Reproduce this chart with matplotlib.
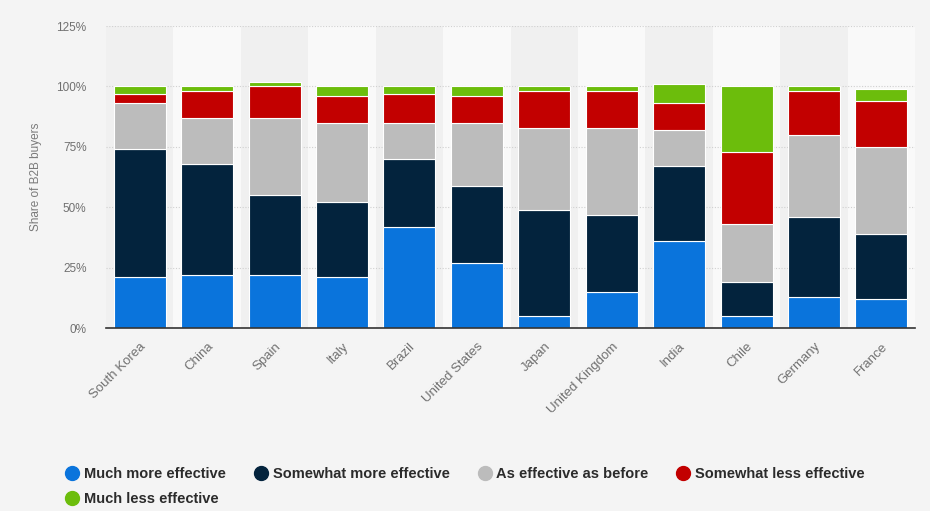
import numpy as np
import matplotlib.pyplot as plt
from matplotlib.lines import Line2D
from matplotlib.ticker import FuncFormatter

# data (share of B2B buyers, %)
countries = ["South Korea", "China", "Spain", "Italy", "Brazil", "United States",
             "Japan", "United Kingdom", "India", "Chile", "Germany", "France"]
much_more = [21, 22, 22, 21, 42, 27, 5, 15, 36, 5, 13, 12]
somewhat_more = [53, 46, 33, 31, 28, 32, 44, 32, 31, 14, 33, 27]
as_before = [19, 19, 32, 33, 15, 26, 34, 36, 15, 24, 34, 36]
somewhat_less = [4, 11, 13, 11, 12, 11, 15, 15, 11, 30, 18, 19]
much_less = [3, 2, 2, 4, 3, 4, 2, 2, 8, 27, 2, 5]

series = [much_more, somewhat_more, as_before, somewhat_less, much_less]
labels = ["Much more effective", "Somewhat more effective", "As effective as before",
          "Somewhat less effective", "Much less effective"]
colors = ["#0a74dc", "#03233d", "#bcbcbc", "#c20000", "#6cbd0c"]

bg = "#f4f4f4"
plt.rcParams["font.family"] = ["Liberation Sans", "DejaVu Sans"]

fig = plt.figure(figsize=(9.3, 5.11), dpi=100, facecolor=bg)
ax = fig.add_axes([0.114, 0.358, 0.87, 0.591])
ax.set_facecolor(bg)

x = np.arange(len(countries))

# alternating column bands
for i in x:
    ax.axvspan(i - 0.5, i + 0.5, color="#f0f0f0" if i % 2 == 0 else "#f9f9f9", zorder=0, lw=0)

bottom = np.zeros(len(countries))
for vals, lab, col in zip(series, labels, colors):
    ax.bar(x, vals, 0.77, bottom=bottom, color=col, edgecolor="white",
           linewidth=0.8, label=lab, zorder=3)
    bottom += np.array(vals)

ax.set_xlim(-0.5, len(countries) - 0.5)
ax.set_ylim(0, 125)
ax.set_yticks([0, 25, 50, 75, 100, 125])
ax.yaxis.set_major_formatter(FuncFormatter(lambda v, p: f"{v:.0f}%"))
ax.grid(axis="y", color="#d0d0d0", linestyle=(0, (1, 1.5)), linewidth=0.8, zorder=1)
ax.set_axisbelow(True)

for s in ["top", "right", "left"]:
    ax.spines[s].set_visible(False)
ax.spines["bottom"].set_color("#333333")
ax.spines["bottom"].set_linewidth(1.2)
ax.spines["bottom"].set_zorder(5)

ax.tick_params(axis="both", length=0, labelsize=8.5, labelcolor="#707070")
ax.tick_params(axis="y", pad=14)
ax.set_xticks(x)
ax.set_xticklabels(countries, rotation=45, ha="right", rotation_mode="anchor", fontsize=9.5)
ax.tick_params(axis="x", pad=9)
ax.set_ylabel("Share of B2B buyers", color="#7a7a7a", fontsize=8.5, labelpad=10)

# legend filled row by row: 4 on the first row, 1 on the second
order = [0, 4, 1, 2, 3]
handles = [Line2D([0], [0], marker="o", linestyle="", markersize=10,
                  markerfacecolor=colors[k], markeredgecolor=colors[k]) for k in order]
leg = fig.legend(handles, [labels[k] for k in order], loc="lower left",
                 bbox_to_anchor=(0.056, -0.016), ncol=4, frameon=False,
                 handletextpad=0.3, columnspacing=1.9, handlelength=1.0,
                 labelspacing=0.75, prop={"weight": "bold", "size": 10.5})
for t in leg.get_texts():
    t.set_color("#2b2b2b")

plt.savefig("out.png", dpi=100, facecolor=bg)
print("Done!")
